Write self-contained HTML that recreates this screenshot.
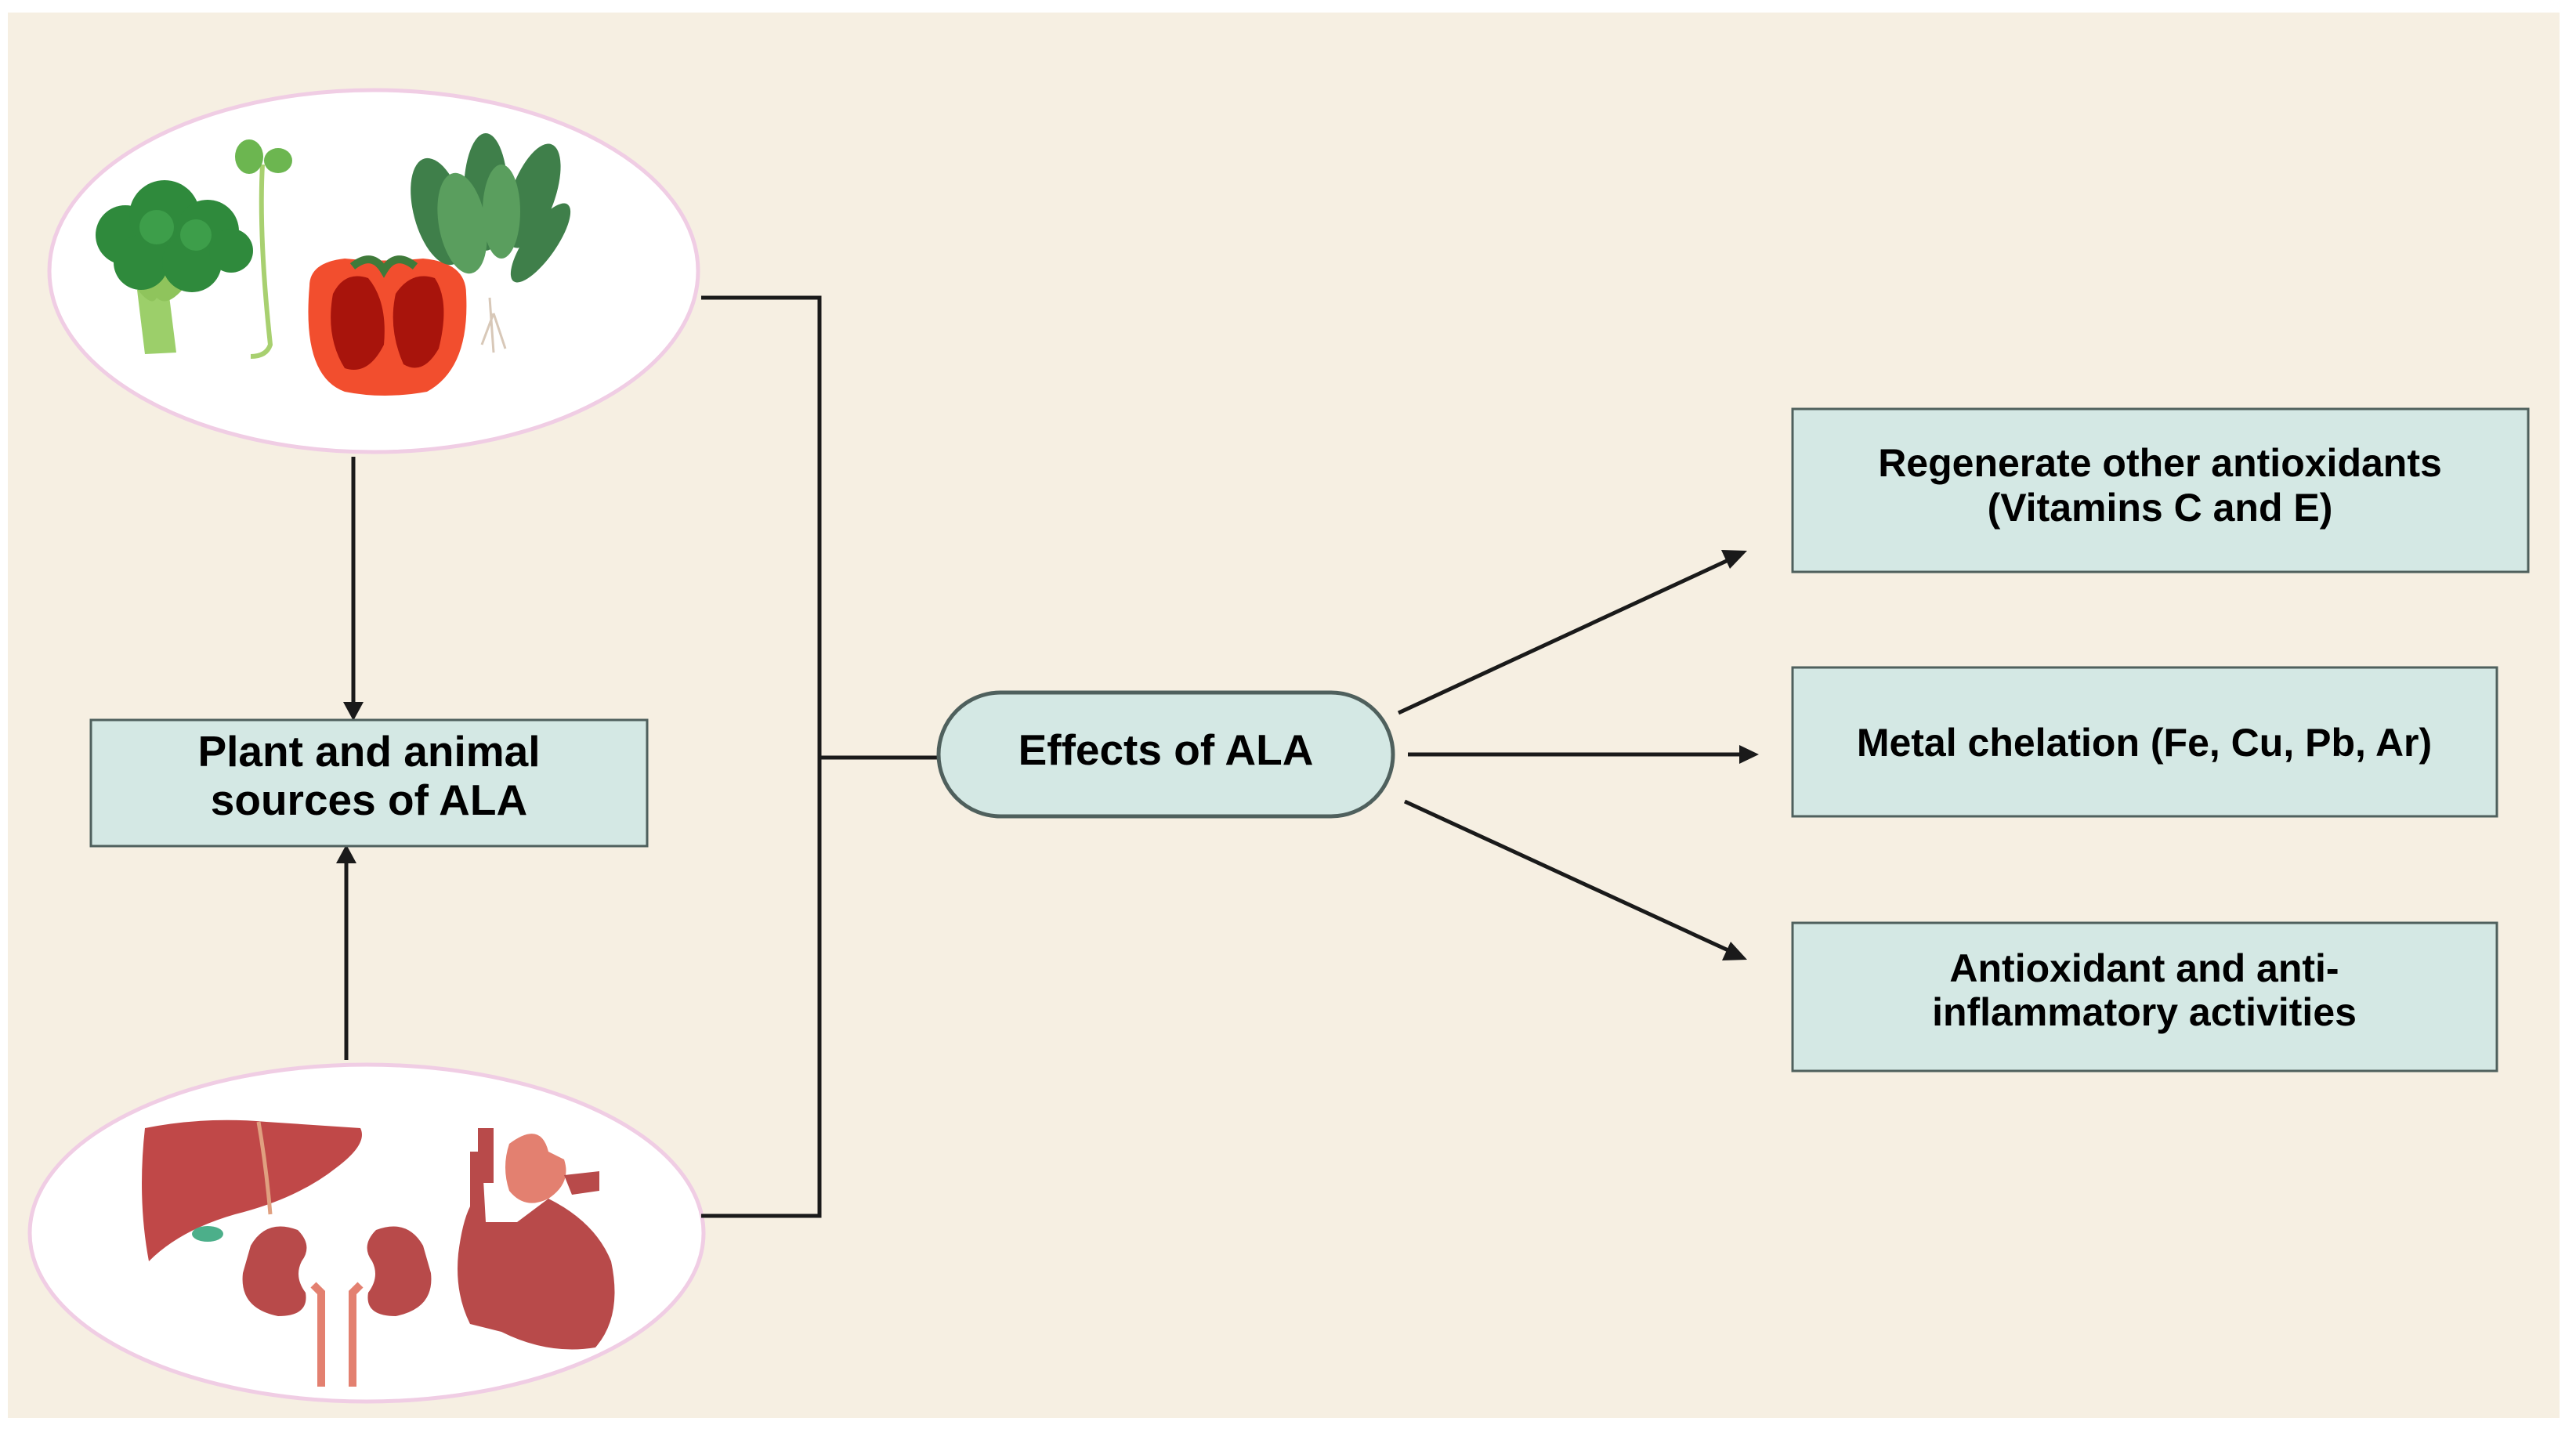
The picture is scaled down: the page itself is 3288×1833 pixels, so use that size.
<!DOCTYPE html>
<html><head><meta charset="utf-8"><style>
html,body{margin:0;padding:0;background:#fff;}
svg{display:block;}
text{font-family:"Liberation Sans",sans-serif;font-weight:bold;fill:#000;}
</style></head><body>
<svg width="3288" height="1833" viewBox="0 0 3288 1833" xmlns="http://www.w3.org/2000/svg">
<defs>
<marker id="ah" markerWidth="10" markerHeight="10" refX="8" refY="5" orient="auto" markerUnits="userSpaceOnUse" viewBox="0 0 10 10">
</marker>
</defs>
<rect x="10" y="16" width="3257" height="1794" fill="#f6efe2"/>
<!-- ellipses -->
<ellipse cx="477" cy="346" rx="414" ry="231" fill="#fff" stroke="#f0cde4" stroke-width="5"/>
<ellipse cx="468" cy="1574" rx="430" ry="215" fill="#fff" stroke="#f0cde4" stroke-width="5"/>

<!-- broccoli -->
<path d="M175 370 L215 370 L225 450 L185 452 Z" fill="#9ccf6a"/>
<path d="M150 330 Q190 400 200 380 Q220 400 260 330 Z" fill="#8fc45c"/>
<g fill="#2f8a3c">
<circle cx="160" cy="300" r="38"/><circle cx="210" cy="275" r="45"/><circle cx="265" cy="295" r="40"/>
<circle cx="180" cy="335" r="35"/><circle cx="245" cy="335" r="38"/><circle cx="295" cy="320" r="28"/>
</g>
<g fill="#3d9e4a"><circle cx="200" cy="290" r="22"/><circle cx="250" cy="300" r="20"/></g>
<!-- sprout -->
<path d="M335 210 Q330 300 345 440 Q340 455 320 455" fill="none" stroke="#a8d070" stroke-width="6"/>
<ellipse cx="318" cy="200" rx="18" ry="22" fill="#6cb650"/><ellipse cx="355" cy="205" rx="18" ry="16" fill="#6cb650"/>
<!-- tomato -->
<path d="M395 365 Q395 335 440 330 Q490 335 540 330 Q595 335 595 375 Q600 470 545 500 Q490 510 440 500 Q385 480 395 365 Z" fill="#f24e2e"/>
<path d="M425 375 Q440 345 470 355 Q495 385 490 440 Q470 480 440 470 Q415 430 425 375 Z" fill="#a8140c"/>
<path d="M505 375 Q525 345 555 355 Q575 385 560 445 Q540 480 515 465 Q495 420 505 375 Z" fill="#a8140c"/>
<path d="M450 340 Q475 320 490 345 Q505 320 530 340" fill="none" stroke="#3f7a3a" stroke-width="10"/>
<!-- spinach -->
<g fill="#3f7f4a">
<ellipse cx="560" cy="270" rx="32" ry="70" transform="rotate(-15 560 270)"/>
<ellipse cx="620" cy="245" rx="28" ry="75"/>
<ellipse cx="680" cy="250" rx="28" ry="70" transform="rotate(20 680 250)"/>
<ellipse cx="690" cy="310" rx="20" ry="60" transform="rotate(35 690 310)"/>
</g>
<g fill="#5a9e5e"><ellipse cx="590" cy="285" rx="30" ry="65" transform="rotate(-10 590 285)"/><ellipse cx="640" cy="270" rx="24" ry="60"/></g>
<path d="M625 380 L630 450 M630 400 L615 440 M630 400 L645 445" stroke="#d8c8b8" stroke-width="3" fill="none"/>

<!-- liver -->
<path d="M185 1440 Q260 1425 340 1432 L460 1440 Q470 1460 430 1490 Q380 1530 300 1550 Q230 1570 190 1610 Q175 1530 185 1440 Z" fill="#c04848"/>
<path d="M330 1432 Q340 1490 345 1550" stroke="#e0a080" stroke-width="5" fill="none"/>
<ellipse cx="265" cy="1575" rx="20" ry="10" fill="#4caf8a"/>
<!-- kidneys -->
<path d="M320 1590 Q340 1555 380 1570 Q400 1590 385 1610 Q375 1630 390 1650 Q395 1680 355 1680 Q305 1670 310 1625 Z" fill="#b84a4a"/>
<path d="M540 1590 Q520 1555 480 1570 Q460 1590 475 1610 Q485 1630 470 1650 Q465 1680 505 1680 Q555 1670 550 1625 Z" fill="#b84a4a"/>
<path d="M400 1640 L410 1650 L410 1770 M460 1640 L450 1650 L450 1770" stroke="#e38070" stroke-width="10" fill="none"/>
<!-- heart -->
<path d="M600 1470 L615 1470 L620 1560 Q640 1560 660 1560 L700 1530 Q760 1560 780 1610 Q795 1680 760 1720 Q700 1730 640 1700 L600 1690 Q580 1650 585 1600 Q590 1560 600 1540 Z" fill="#b84a4a"/>
<path d="M650 1460 Q690 1430 700 1470 L720 1480 Q730 1510 700 1530 Q670 1545 650 1520 Q640 1490 650 1460 Z" fill="#e38070"/>
<rect x="610" y="1440" width="20" height="70" fill="#b84a4a"/>
<path d="M720 1500 L765 1495 L765 1520 L730 1525 Z" fill="#b84a4a"/>

<!-- connectors -->
<g stroke="#1a1a1a" stroke-width="5" fill="none">
<line x1="451" y1="583" x2="451" y2="900"/>
<line x1="442" y1="1353" x2="442" y2="1098"/>
<polyline points="895,380 1046,380 1046,1552 895,1552"/>
<line x1="1046" y1="967" x2="1197" y2="967"/>
<line x1="1785" y1="910" x2="2208" y2="714"/>
<line x1="1797" y1="963" x2="2222" y2="963"/>
<line x1="1793" y1="1023" x2="2208" y2="1214"/>
</g>
<g fill="#1a1a1a">
<polygon points="438,896 464,896 451,920"/>
<polygon points="429,1102 455,1102 442,1078"/>
<polygon points="2230,703 2197,702 2208,726"/>
<polygon points="2245,963 2220,951 2220,975"/>
<polygon points="2230,1225 2198,1226 2209,1202"/>
</g>

<!-- boxes -->
<g fill="#d4e8e4" stroke="#4f605d" stroke-width="3">
<rect x="116" y="919" width="710" height="161"/>
<rect x="2288" y="522" width="939" height="208"/>
<rect x="2288" y="852" width="899" height="190"/>
<rect x="2288" y="1178" width="899" height="189"/>
<rect x="1198" y="884" width="580" height="158" rx="79" ry="79" stroke-width="5"/>
</g>
<g text-anchor="middle">
<text x="471" y="978" font-size="55">Plant and animal</text>
<text x="471" y="1040" font-size="55">sources of ALA</text>
<text x="1488" y="976" font-size="55">Effects of ALA</text>
<text x="2757" y="608" font-size="50">Regenerate other antioxidants</text>
<text x="2757" y="665" font-size="50">(Vitamins C and E)</text>
<text x="2737" y="965" font-size="50">Metal chelation (Fe, Cu, Pb, Ar)</text>
<text x="2737" y="1253" font-size="50">Antioxidant and anti-</text>
<text x="2737" y="1309" font-size="50">inflammatory activities</text>
</g>
</svg>
</body></html>
